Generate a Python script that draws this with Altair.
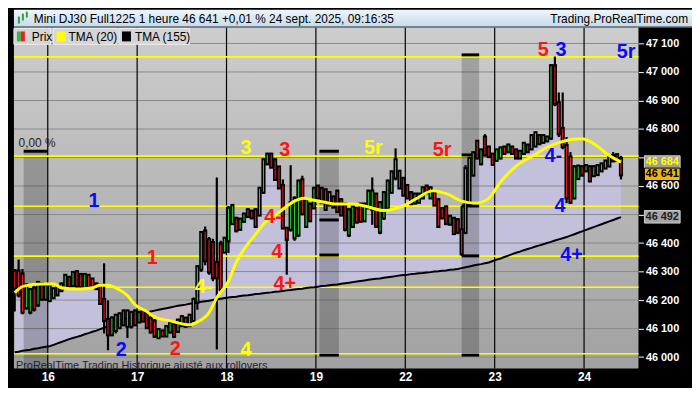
import altair as alt
import pandas as pd

# ---------------- data ----------------
high = [46309, 46342, 46309, 46259, 46243, 46249, 46266, 46259, 46256, 46256,
        46243, 46249, 46259, 46289, 46282, 46299, 46302, 46292, 46292, 46289,
        46276, 46259, 46256, 46329, 46199, 46143, 46150, 46156, 46166, 46166,
        46160, 46166, 46160, 46166, 46160, 46143, 46133, 46100, 46093, 46110,
        46123, 46117, 46133, 46143, 46140, 46150, 46209, 46322, 46441, 46458,
        46421, 46415, 46630, 46408, 46421, 46530, 46537, 46491, 46487, 46504,
        46521, 46514, 46521, 46597, 46696, 46716, 46716, 46696, 46670, 46623,
        46454, 46673, 46564, 46623, 46636, 46557, 46540, 46597, 46603, 46597,
        46590, 46580, 46564, 46587, 46557, 46540, 46521, 46530, 46524, 46540,
        46540, 46587, 46630, 46574, 46547, 46580, 46623, 46653, 46732, 46656,
        46630, 46607, 46580, 46574, 46574, 46597, 46603, 46597, 46580, 46557,
        46524, 46530, 46497, 46487, 46487, 46530, 46673, 46703, 46719, 46762,
        46729, 46782, 46739, 46713, 46729, 46736, 46739, 46746, 46739, 46729,
        46723, 46752, 46746, 46779, 46789, 46779, 46779, 46772, 47027, 47054,
        46928, 46928, 46772, 46719, 46673, 46673, 46670, 46673, 46670, 46670,
        46673, 46680, 46689, 46703, 46719, 46713, 46706]
low = [46160, 46209, 46150, 46166, 46150, 46160, 46176, 46199, 46199, 46193,
       46206, 46216, 46233, 46239, 46243, 46249, 46243, 46243, 46239, 46243,
       46243, 46239, 46183, 46083, 46024, 46077, 46083, 46100, 46110, 46067,
       46100, 46110, 46123, 46123, 46100, 46083, 46067, 46067, 46073, 46073,
       46083, 46067, 46090, 46110, 46107, 46110, 46123, 46166, 46299, 46322,
       46289, 46266, 46027, 46226, 46365, 46365, 46464, 46438, 46448, 46474,
       46491, 46487, 46454, 46497, 46574, 46673, 46663, 46620, 46590, 46448,
       46289, 46440, 46408, 46421, 46497, 46454, 46474, 46521, 46554, 46540,
       46514, 46530, 46524, 46507, 46497, 46441, 46421, 46454, 46471, 46474,
       46474, 46521, 46464, 46454, 46431, 46481, 46521, 46574, 46620, 46590,
       46564, 46557, 46537, 46540, 46540, 46557, 46574, 46557, 46530, 46454,
       46487, 46464, 46464, 46431, 46431, 46355, 46431, 46530, 46636, 46696,
       46673, 46706, 46703, 46673, 46689, 46696, 46713, 46719, 46713, 46696,
       46696, 46713, 46719, 46729, 46739, 46746, 46752, 46759, 46762, 46880,
       46772, 46729, 46540, 46537, 46554, 46623, 46636, 46653, 46613, 46636,
       46640, 46653, 46663, 46670, 46686, 46689, 46623]
open_ = [46300, 46300, 46290, 46175, 46160, 46240, 46185, 46255, 46205, 46200,
         46210, 46245, 46235, 46245, 46278, 46252, 46298, 46288, 46245, 46285,
         46272, 46255, 46250, 46200, 46130, 46080, 46095, 46105, 46160, 46110,
         46110, 46160, 46125, 46160, 46150, 46135, 46125, 46070, 46090, 46076,
         46090, 46112, 46092, 46112, 46135, 46112, 46130, 46195, 46310, 46440,
         46410, 46400, 46330, 46395, 46370, 46410, 46470, 46485, 46450, 46478,
         46515, 46510, 46515, 46500, 46580, 46680, 46710, 46690, 46665, 46600,
         46450, 46450, 46420, 46430, 46620, 46460, 46535, 46525, 46598, 46590,
         46585, 46535, 46560, 46580, 46550, 46535, 46430, 46460, 46520, 46535,
         46480, 46525, 46520, 46570, 46440, 46490, 46525, 46580, 46630, 46650,
         46625, 46600, 46575, 46542, 46545, 46560, 46598, 46560, 46575, 46550,
         46520, 46525, 46468, 46485, 46480, 46445, 46440, 46540, 46640, 46755,
         46680, 46770, 46735, 46710, 46692, 46700, 46735, 46722, 46735, 46725,
         46700, 46716, 46742, 46732, 46742, 46775, 46755, 46760, 46770, 47020,
         46890, 46800, 46740, 46700, 46560, 46628, 46666, 46655, 46666, 46638,
         46642, 46655, 46665, 46672, 46705, 46708, 46695]
close = [46245, 46220, 46160, 46250, 46235, 46170, 46260, 46205, 46250, 46250,
         46238, 46220, 46255, 46285, 46248, 46295, 46250, 46248, 46288, 46248,
         46248, 46242, 46190, 46130, 46080, 46135, 46145, 46150, 46115, 46160,
         46155, 46115, 46155, 46128, 46105, 46090, 46075, 46095, 46076, 46105,
         46118, 46075, 46128, 46140, 46110, 46145, 46200, 46315, 46435, 46340,
         46300, 46280, 46280, 46240, 46415, 46520, 46530, 46445, 46482, 46500,
         46495, 46490, 46460, 46590, 46690, 46710, 46668, 46625, 46595, 46455,
         46415, 46540, 46555, 46615, 46505, 46550, 46480, 46590, 46560, 46545,
         46520, 46575, 46528, 46512, 46500, 46450, 46515, 46525, 46475, 46478,
         46535, 46580, 46580, 46460, 46540, 46575, 46615, 46648, 46690, 46595,
         46570, 46560, 46540, 46570, 46570, 46592, 46578, 46592, 46535, 46460,
         46490, 46470, 46492, 46435, 46440, 46365, 46660, 46695, 46715, 46700,
         46725, 46710, 46705, 46678, 46725, 46732, 46716, 46742, 46716, 46700,
         46720, 46748, 46722, 46775, 46785, 46750, 46775, 46770, 47020, 46890,
         46785, 46740, 46560, 46545, 46665, 46668, 46640, 46670, 46620, 46666,
         46670, 46676, 46686, 46700, 46690, 46692, 46641]
tma155 = [46017, 46019, 46022, 46024, 46026, 46029, 46031, 46034, 46036, 46038,
          46043, 46048, 46053, 46058, 46063, 46067, 46071, 46075, 46080, 46084,
          46089, 46093, 46098, 46103, 46109, 46115, 46120, 46126, 46132, 46137,
          46143, 46146, 46150, 46153, 46157, 46160, 46163, 46166, 46169, 46171,
          46174, 46177, 46180, 46182, 46184, 46187, 46189, 46191, 46194, 46196,
          46198, 46200, 46203, 46205, 46207, 46209, 46211, 46212, 46214, 46216,
          46217, 46219, 46221, 46222, 46224, 46226, 46227, 46229, 46230, 46232,
          46234, 46235, 46237, 46239, 46240, 46242, 46244, 46245, 46247, 46249,
          46250, 46252, 46254, 46255, 46257, 46259, 46261, 46263, 46265, 46267,
          46269, 46271, 46273, 46275, 46276, 46278, 46280, 46282, 46284, 46286,
          46288, 46289, 46291, 46292, 46294, 46295, 46297, 46298, 46300, 46301,
          46303, 46304, 46306, 46307, 46309, 46312, 46315, 46318, 46321, 46324,
          46326, 46329, 46332, 46337, 46342, 46346, 46351, 46356, 46361, 46366,
          46370, 46375, 46379, 46383, 46388, 46392, 46396, 46400, 46404, 46409,
          46413, 46417, 46421, 46426, 46431, 46436, 46441, 46446, 46451, 46456,
          46461, 46466, 46471, 46476, 46481, 46486, 46491]

# TMA(20) read at these bar positions
tma20_pos = [0, 2.3, 7, 10, 12, 15, 17, 20, 22, 24, 26, 29, 31, 34, 36, 40, 42, 45, 47, 50,
             52, 55, 57, 59.5, 62, 64.5, 67, 69.5, 72, 74.4, 77, 79.4, 82.6, 86.9, 90, 95,
             100, 103.5, 107.5, 111.7, 115, 118.5, 121.7, 125, 129, 133.4, 137, 140, 143,
             146, 150, 152.3, 156]
tma20_val = [46226, 46249, 46256, 46256, 46243, 46239, 46239, 46243, 46252, 46252, 46243,
             46216, 46183, 46160, 46140, 46127, 46120, 46113, 46123, 46156, 46209, 46266,
             46332, 46388, 46431, 46474, 46497, 46524, 46547, 46557, 46550, 46544, 46537,
             46537, 46530, 46514, 46530, 46557, 46583, 46570, 46547, 46540, 46554, 46613,
             46670, 46706, 46736, 46752, 46762, 46766, 46739, 46713, 46684]

# day separators (bar positions) and their labels
day_pos = [8.5, 31.5, 54.5, 77.5, 100.5, 123.5, 146.5]
day_lab = ["16", "17", "18", "19", "22", "23", "24"]

# price axis ticks
price_ticks = [46000, 46100, 46200, 46300, 46400, 46500, 46600, 46700, 46800, 46900, 47000, 47100]
hidden_tick_labels = [46500, 46700]   # covered by the price badges in the reference

# yellow horizontal levels
yellow_levels = [47053, 46705, 46529, 46354, 46245, 46012]

# shaded zones
zone_start = [2.3, 78.4, 115.0]
zone_end = [8.5, 83.4, 119.5]
zone_top = [46722, 46722, 47060]
zone_bottom = [45960, 46007, 46007]
zone_mark_start = [2.3, 78.4, 78.4, 78.4, 78.4, 115.0, 115.0, 115.0, 115.0, 115.0]
zone_mark_end = [8.5, 83.4, 83.4, 83.4, 83.4, 119.5, 119.5, 119.5, 119.5, 119.5]
zone_mark_price = [46722, 46722, 46481, 46358, 46007, 47060, 46709, 46530, 46355, 46007]

# wave labels
wave_text = ["1", "1", "2", "2", "4-", "4", "3", "3", "4-", "4", "4+", "5r", "5r",
             "5", "3", "5r", "4-", "4", "4+"]
wave_color = ["#0a0aff", "#ff1414", "#0a0aff", "#ff1414", "#ffff00", "#ffff00", "#ffff00",
              "#ff1414", "#ff1414", "#ff1414", "#ff1414", "#ffff00", "#ff1414", "#ff1414",
              "#0a0aff", "#0a0aff", "#0a0aff", "#0a0aff", "#0a0aff"]
wave_pos = [20.4, 35.4, 27.4, 41.3, 48.6, 59.5, 59.5, 69.5, 66.5, 67.5, 69.5, 92.3, 110,
            136, 140.6, 157.3, 138.6, 140.3, 143.3]
wave_price = [46547, 46348, 46024, 46027, 46246, 46024, 46732, 46726, 46491, 46368, 46256,
              46732, 46726, 47077, 47077, 47070, 46706, 46530, 46358]

# price badges on the axis
badge_val = [46684, 46641, 46492]
badge_text = ["46 684", "46 641", "46 492"]
badge_fill = ["#9d9d9d", "#f2b705", "#a6a6a6"]
badge_textcolor = ["#ffff00", "#000000", "#1e1e1e"]
badge_stroke = ["#d8d8d8", "#000000", "#d0d0d0"]

header_left = "Mini DJ30 Full1225 1 heure 46 641 +0,01 % 24 sept. 2025, 09:16:35"
header_right = "Trading.ProRealTime.com"
footer_text = "ProRealTime Trading  Historique ajusté aux rollovers"
pct_text = "0,00 %"

# ---------------- chart ----------------
PW, PH = 630, 344
RW, HH, BH = 54, 18, 18
FONT = "Liberation Sans"

xs = alt.Scale(domain=[-0.2, 160.5], nice=False, zero=False)
ys = alt.Scale(domain=[45960, 47156], nice=False, zero=False)

hide_expr = " || ".join("datum.value == %d" % v for v in hidden_tick_labels)
y_label_expr = "(" + hide_expr + ") ? '' : replace(format(datum.value, ','), ',', ' ')"
x_label_expr = ("[" + ",".join("'%s'" % d for d in day_lab) + "][indexof([" +
                ",".join(str(p) for p in day_pos) + "], datum.value)]")

AX = alt.Axis(orient="bottom", values=day_pos, labelExpr=x_label_expr, grid=False,
              domain=False, ticks=False, labelColor="#ffffff", labelFont=FONT,
              labelFontSize=12, labelFontWeight="bold", labelPadding=3, title=None,
              labelOverlap=False, labelFlush=False)
AY = alt.Axis(orient="right", values=price_ticks, labelExpr=y_label_expr,
              grid=False, domain=False, ticks=True, tickColor="#ffffff", tickSize=5,
              tickWidth=1, labelColor="#ffffff", labelFont=FONT, labelFontSize=11,
              labelFontWeight="bold", labelPadding=2, title=None, labelOverlap=False,
              labelFlush=False)


def X(f):
    return alt.X(f, type="quantitative", scale=xs, axis=AX)


def Y(f):
    return alt.Y(f, type="quantitative", scale=ys, axis=AY)


bars = pd.DataFrame({"i": list(range(len(close))), "open": open_, "high": high,
                     "low": low, "close": close, "tma155": tma155})
one = pd.DataFrame({"a": [0]})

layers = []

# plot background gradient
layers.append(alt.Chart(one).mark_rect(
    fill=alt.LinearGradient(gradient="linear",
                            stops=[alt.GradientStop(color="#cdcdcd", offset=0),
                                   alt.GradientStop(color="#a1a1a1", offset=1)],
                            x1=0, x2=0, y1=0, y2=1)
).encode(x=alt.value(0), x2=alt.value(PW), y=alt.value(0), y2=alt.value(PH)))

# fill between price and TMA(155)
layers.append(alt.Chart(bars).transform_calculate(top="max(datum.close, datum.tma155)")
              .mark_area(color="#c2c0da", interpolate="step")
              .encode(x=X("i"), y=Y("top"), y2="tma155:Q"))
layers.append(alt.Chart(bars).transform_calculate(bot="min(datum.close, datum.tma155)")
              .mark_area(color="#c6b6bc", interpolate="step")
              .encode(x=X("i"), y=Y("bot"), y2="tma155:Q"))

# horizontal grid
layers.append(alt.Chart(pd.DataFrame({"lvl": price_ticks})).mark_rule(
    color="#8a8a8a", strokeWidth=1).encode(
    y=Y("lvl"), x=alt.value(0), x2=alt.value(PW)))

# shaded zones
zones = pd.DataFrame({"s": zone_start, "e": zone_end, "t": zone_top, "b": zone_bottom})
layers.append(alt.Chart(zones).mark_rect(color="#000000", opacity=0.2).encode(
    x=X("s"), x2="e:Q", y=Y("t"), y2="b:Q"))

# day separators
layers.append(alt.Chart(pd.DataFrame({"pos": day_pos})).mark_rule(
    color="#000000", strokeWidth=1.2).encode(
    x=X("pos"), y=alt.value(0), y2=alt.value(PH)))

# yellow levels
layers.append(alt.Chart(pd.DataFrame({"lv": yellow_levels})).mark_rule(
    color="#ffff00", strokeWidth=1.6).encode(
    y=Y("lv"), x=alt.value(0), x2=alt.value(PW)))

# zone marks
zm = pd.DataFrame({"s": zone_mark_start, "e": zone_mark_end, "p": zone_mark_price})
layers.append(alt.Chart(zm).mark_rule(color="#000000", strokeWidth=3).encode(
    x=X("s"), x2="e:Q", y=Y("p")))

# TMA(155)
layers.append(alt.Chart(bars).mark_line(color="#000000", strokeWidth=2).encode(
    x=X("i"), y=Y("tma155")))

# candles
layers.append(alt.Chart(bars).mark_rule(color="#000000", strokeWidth=2.2).encode(
    x=X("i"), y=Y("low"), y2="high:Q"))
layers.append(alt.Chart(bars).mark_rule(color="#000000", strokeWidth=4.2, strokeCap="square").encode(
    x=X("i"), y=Y("open"), y2="close:Q"))
layers.append(alt.Chart(bars).mark_rule(strokeWidth=1, strokeCap="butt").encode(
    x=X("i"), y=Y("open"), y2="close:Q",
    color=alt.condition("datum.close >= datum.open", alt.value("#33d13a"), alt.value("#f0202a"))))

# TMA(20)
layers.append(alt.Chart(pd.DataFrame({"i": tma20_pos, "v": tma20_val})).mark_line(
    color="#ffff00", strokeWidth=3, interpolate="monotone").encode(x=X("i"), y=Y("v")))

# wave labels
waves = pd.DataFrame({"t": wave_text, "c": wave_color, "i": wave_pos, "p": wave_price})
layers.append(alt.Chart(waves).mark_text(
    font=FONT, fontSize=20, fontWeight="bold", align="center", baseline="middle").encode(
    x=X("i"), y=Y("p"), text="t:N", color=alt.Color("c:N", scale=None)))

# "0,00 %" label
layers.append(alt.Chart(pd.DataFrame({"t": [pct_text], "i": [1.0], "p": [46752]})).mark_text(
    font=FONT, fontSize=12, align="left", baseline="middle", color="#2a2418").encode(
    x=X("i"), y=Y("p"), text="t:N"))

# footer text
layers.append(alt.Chart(pd.DataFrame({"t": [footer_text]})).mark_text(
    font=FONT, fontSize=11, align="left", baseline="middle", color="#1e1e34").encode(
    x=alt.value(2), y=alt.value(PH - 3), text="t:N"))


def rect(x0, x1, y0, y1, fill, stroke=None):
    kw = dict(fill=fill)
    if stroke:
        kw["stroke"] = stroke
        kw["strokeWidth"] = 1
    return alt.Chart(one).mark_rect(**kw).encode(
        x=alt.value(x0), x2=alt.value(x1), y=alt.value(y0), y2=alt.value(y1))


def label(txt, x, y, size=12, color="#000000", align="left", weight="normal"):
    return alt.Chart(pd.DataFrame({"t": [txt]})).mark_text(
        font=FONT, fontSize=size, align=align, baseline="middle", color=color,
        fontWeight=weight).encode(x=alt.value(x), y=alt.value(y), text="t:N")


# legend row
layers += [
    rect(0, 37, 1, 17, "#d5d5d5", "#ececec"),
    rect(40, 104, 1, 17, "#d5d5d5", "#ececec"),
    rect(106, 177, 1, 17, "#d5d5d5", "#ececec"),
    rect(3, 7, 4, 14, "#39b54a"),
    rect(7, 11, 4, 14, "#ee1c24"),
    rect(43, 52, 4, 14, "#ffff00"),
    rect(109, 118, 4, 14, "#000000"),
    label("Prix", 18, 9.5),
    label("TMA (20)", 55, 9.5),
    label("TMA (155)", 122, 9.5),
]

# header bar
layers.append(alt.Chart(one).mark_rect(
    fill=alt.LinearGradient(gradient="linear",
                            stops=[alt.GradientStop(color="#eef6fc", offset=0),
                                   alt.GradientStop(color="#c6dbea", offset=1)],
                            x1=0, x2=0, y1=0, y2=1)
).encode(x=alt.value(0), x2=alt.value(PW + RW), y=alt.value(-HH), y2=alt.value(-1)))
layers.append(rect(0, PW + RW, -1, 0, "#8a9cab"))
layers += [
    rect(4, 6, -11, -4, "#2ea043"),
    rect(8, 10, -14, -7, "#2ea043"),
    rect(12, 14, -16, -10, "#2ea043"),
]
layers.append(label(header_left, 20, -HH / 2))
layers.append(label(header_right, PW + RW - 4, -HH / 2, align="right"))

# bottom band extent
layers.append(alt.Chart(one).mark_rect(fill="#000000", fillOpacity=0).encode(
    x=alt.value(0), x2=alt.value(PW + RW), y=alt.value(PH + BH - 1), y2=alt.value(PH + BH)))

# price badges
badges = pd.DataFrame({"v": badge_val, "t": badge_text, "f": badge_fill,
                       "tc": badge_textcolor, "s": badge_stroke})
layers.append(alt.Chart(badges).mark_point(
    shape="M-1,-0.35L1,-0.35L1,0.35L-1,0.35Z", size=36 * 36, filled=True, opacity=1,
    strokeWidth=1).encode(
    x=alt.value(PW + 24), y=Y("v"),
    fill=alt.Fill("f:N", scale=None), stroke=alt.Stroke("s:N", scale=None)))
layers.append(alt.Chart(badges).mark_text(
    font=FONT, fontSize=11, fontWeight="bold", align="center", baseline="middle").encode(
    x=alt.value(PW + 24), y=Y("v"), text="t:N", color=alt.Color("tc:N", scale=None)))

chart = alt.layer(*layers).properties(
    width=PW, height=PH, padding=0, background="#000000"
).configure_view(stroke=None)

chart.save("out.html", embed_options={"renderer": "svg", "actions": False})
